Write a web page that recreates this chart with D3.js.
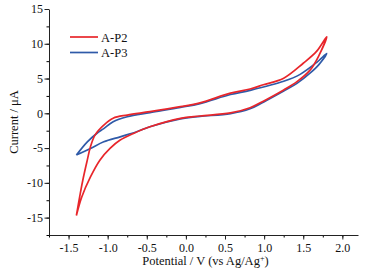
<!DOCTYPE html>
<html>
<head>
<meta charset="utf-8">
<script src="https://cdn.jsdelivr.net/npm/d3@7"></script>
<style>
  body { margin: 0; background: #fff; }
  text { font-family: "Liberation Serif", "Times New Roman", serif; fill: #111; }
</style>
</head>
<body>
<div id="chart-area"></div>
<script>
// A-P2 loop: upper branch from the left tip to the right tip, then back along the lower branch
const p2Potential = [-1.40, -1.35, -1.31, -1.26, -1.22, -1.16, -1.05, -0.93, -0.75, -0.46, -0.07, 0.18, 0.57, 0.82, 0.99, 1.25, 1.50, 1.67, 1.80,
    1.70, 1.59, 1.42, 1.25, 0.99, 0.82, 0.57, 0.18, -0.07, -0.46, -0.67, -0.84, -0.97, -1.10, -1.22, -1.33, -1.40];
const p2Current = [-14.7, -11.5, -9.2, -6.7, -4.8, -3.1, -1.7, -0.7, -0.25, 0.23, 0.95, 1.5, 2.9, 3.5, 4.1, 5.05, 7.2, 8.9, 11.0,
    8.3, 6.25, 4.56, 3.36, 1.75, 0.8, 0.05, -0.39, -0.72, -1.93, -2.89, -3.85, -5.05, -6.74, -9.15, -12.0, -14.7];

// A-P3 loop
const p3Potential = [-1.40, -1.26, -1.14, -1.05, -0.93, -0.75, -0.46, -0.07, 0.18, 0.57, 0.82, 1.25, 1.46, 1.67, 1.80,
    1.70, 1.59, 1.42, 1.25, 0.99, 0.82, 0.57, 0.18, -0.07, -0.46, -0.63, -0.84, -1.05, -1.22, -1.40];
const p3Current = [-6.0, -4.1, -2.9, -2.2, -1.2, -0.5, 0.09, 0.85, 1.4, 2.7, 3.3, 4.6, 5.6, 7.3, 8.6,
    7.0, 5.8, 4.3, 3.2, 1.6, 0.65, -0.05, -0.45, -0.8, -1.93, -2.66, -3.38, -4.1, -5.05, -6.0];

const seriesNames = ['A-P2', 'A-P3'];
const seriesColors = ['#e8262b', '#2f5aa8'];
const xTicks = [-1.5, -1.0, -0.5, 0.0, 0.5, 1.0, 1.5, 2.0];
const yTicks = [-15, -10, -5, 0, 5, 10, 15];

const totalW = 378, totalH = 273;
const margin = {left: 49, right: 20, top: 9, bottom: 38};
const width = totalW - margin.left - margin.right;
const height = totalH - margin.top - margin.bottom;

const svg = d3.select('#chart-area')
    .append('svg')
    .attr('width', totalW)
    .attr('height', totalH);

const g = svg.append('g')
    .attr('transform', `translate(${margin.left}, ${margin.top})`);

const x = d3.scaleLinear().domain([-1.75, 2.2]).range([0, width]);
const y = d3.scaleLinear().domain([-17.5, 15]).range([height, 0]);

// minor ticks
g.append('g')
    .attr('transform', `translate(0, ${height})`)
    .call(d3.axisBottom(x).tickValues(d3.range(-1.75, 2.21, 0.25)).tickSize(2.5).tickFormat(''))
    .call(a => a.select('.domain').remove());
g.append('g')
    .call(d3.axisLeft(y).tickValues(d3.range(-17.5, 15.1, 2.5)).tickSize(2.5).tickFormat(''))
    .call(a => a.select('.domain').remove());

const xAxisCall = d3.axisBottom(x)
    .tickValues(xTicks)
    .tickSize(4.5)
    .tickSizeOuter(0)
    .tickFormat(d3.format('.1f'));
g.append('g')
    .attr('class', 'x axis')
    .attr('transform', `translate(0, ${height})`)
    .call(xAxisCall)
    .selectAll('text')
        .attr('font-size', '12px')
        .attr('y', 8)
        .text(d => d3.format('.1f')(d).replace('−', '-'));

const yAxisCall = d3.axisLeft(y)
    .tickValues(yTicks)
    .tickSize(4.5)
    .tickSizeOuter(0)
    .tickFormat(d => `${d}`);
g.append('g')
    .attr('class', 'y axis')
    .call(yAxisCall)
    .selectAll('text')
        .attr('font-size', '12px')
        .attr('x', -6);

g.selectAll('.axis path, .axis line').attr('stroke', '#222');

g.append('text')
    .attr('x', x(0.25))
    .attr('y', height + 30)
    .attr('font-size', '12.5px')
    .attr('text-anchor', 'middle')
    .html('Potential / V (vs Ag/Ag<tspan dy="-4" font-size="8px">+</tspan><tspan dy="4">)</tspan>');

g.append('text')
    .attr('transform', `translate(${-31}, ${height / 2}) rotate(-90)`)
    .attr('font-size', '12.5px')
    .attr('text-anchor', 'middle')
    .text('Current / μA');

const series = [
    p2Potential.map((v, i) => ({v: v, c: p2Current[i]})),
    p3Potential.map((v, i) => ({v: v, c: p3Current[i]}))
];

const line = d3.line()
    .x(d => x(d.v))
    .y(d => y(d.c))
    .curve(d3.curveCatmullRom.alpha(0.5));

// draw A-P3 first so A-P2 sits under it in the overlapping parts like the source
[1, 0].forEach(i => {
    g.append('path')
        .datum(series[i])
        .attr('fill', 'none')
        .attr('stroke', seriesColors[i])
        .attr('stroke-width', 1.7)
        .attr('stroke-linejoin', 'round')
        .attr('d', line);
});

// legend
const legend = g.append('g').attr('transform', 'translate(21, 28)');
seriesNames.forEach((name, i) => {
    legend.append('line')
        .attr('x1', 0).attr('x2', 28)
        .attr('y1', i * 15.5).attr('y2', i * 15.5)
        .attr('stroke', seriesColors[i])
        .attr('stroke-width', 1.7);
    legend.append('text')
        .attr('x', 31)
        .attr('y', i * 15.5 + 4.5)
        .attr('font-size', '12.5px')
        .text(name);
});
</script>
</body>
</html>
